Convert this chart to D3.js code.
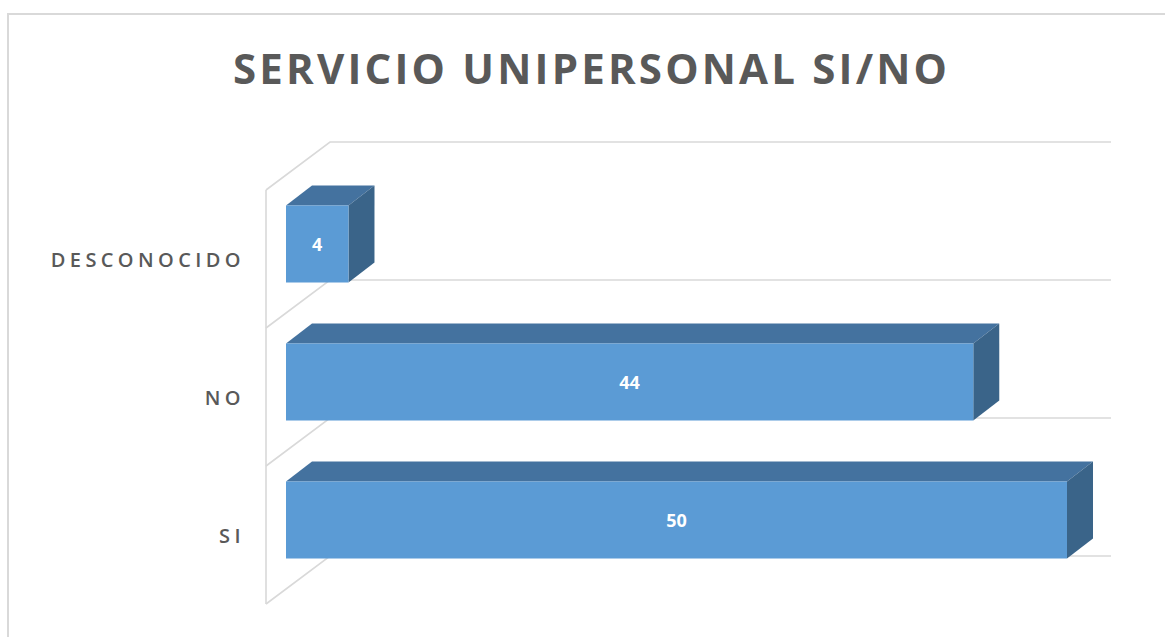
<!DOCTYPE html>
<html><head><meta charset="utf-8">
<script src="https://cdn.jsdelivr.net/npm/d3@7"></script>
<style>html,body{margin:0;padding:0;background:#fff;}svg{display:block;}</style>
</head><body>
<svg id="chart" width="1165" height="637"></svg>
<script>
const title = "SERVICIO UNIPERSONAL SI/NO";
const categories = ["DESCONOCIDO", "NO", "SI"];
const values = [4, 44, 50];
const valueDomain = [0, 50];

const svg = d3.select("#chart");

// chart area border
svg.append("rect").attr("x", 8).attr("y", 14).attr("width", 1200).attr("height", 700)
  .attr("fill", "#fff").attr("stroke", "#d9d9d9").attr("stroke-width", 2);

// title
svg.append("text").attr("x", 590).attr("y", 84).attr("text-anchor", "middle")
  .attr("font-family", "'Open Sans', sans-serif").attr("font-weight", 700)
  .attr("font-size", 42).attr("fill", "#595959")
  .attr("textLength", 714).attr("lengthAdjust", "spacing")
  .text(title);

// scales (front plane of walls)
const x = d3.scaleLinear().domain(valueDomain).range([266, 1047]);
const y = d3.scaleBand().domain(categories).range([190, 604]).paddingInner(0.442).paddingOuter(0.221);

const wallDX = 64, wallDY = -48;   // depth of plot box
const barOffX = 20, barOffY = -15; // bar front position inside depth
const barDX = 26, barDY = -20;     // bar depth

const grid = svg.append("g").attr("stroke", "#d9d9d9").attr("stroke-width", 1.6).attr("fill", "none");
grid.append("line").attr("x1", x(0)).attr("x2", x(0)).attr("y1", y.range()[0]).attr("y2", y.range()[1]);
const step = y.step();
const bounds = d3.range(categories.length + 1).map(i => y.range()[0] + i * step);
bounds.forEach(b => {
  grid.append("polyline").attr("points", [
    [x(0), b], [x(0) + wallDX, b + wallDY], [x(valueDomain[1]) + wallDX, b + wallDY]
  ].map(p => p.join(",")).join(" "));
});

// bars
const bars = svg.append("g");
categories.forEach((c, i) => {
  const x0 = x(0) + barOffX, x1 = x(values[i]) + barOffX;
  const y0 = y(c) + barOffY, y1 = y0 + y.bandwidth();
  bars.append("polygon").attr("fill", "#44729f").attr("points", [
    [x0, y0], [x0 + barDX, y0 + barDY], [x1 + barDX, y0 + barDY], [x1, y0]
  ].map(p => p.join(",")).join(" "));
  bars.append("polygon").attr("fill", "#3a6489").attr("points", [
    [x1, y0], [x1 + barDX, y0 + barDY], [x1 + barDX, y1 + barDY], [x1, y1]
  ].map(p => p.join(",")).join(" "));
  bars.append("rect").attr("x", x0).attr("y", y0).attr("width", x1 - x0).attr("height", y1 - y0)
    .attr("fill", "#5b9bd5");
  bars.append("text").attr("x", (x0 + x1) / 2).attr("y", (y0 + y1) / 2 + 6.5)
    .attr("text-anchor", "middle").attr("font-family", "'Open Sans', sans-serif")
    .attr("font-weight", 700).attr("font-size", 18).attr("fill", "#fff")
    .text(values[i]);
});

// category labels
const labels = svg.append("g").attr("font-family", "'Open Sans', sans-serif")
  .attr("font-size", 20).attr("font-weight", 600).attr("fill", "#595959").attr("letter-spacing", 4.4);
categories.forEach(c => {
  labels.append("text").attr("x", 245).attr("y", y(c) + y.bandwidth() / 2 + 7.5)
    .attr("text-anchor", "end").text(c);
});
</script>
</body></html>
